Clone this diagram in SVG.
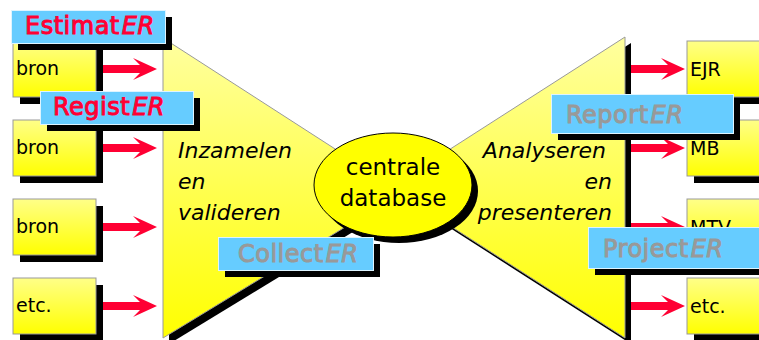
<svg xmlns="http://www.w3.org/2000/svg" width="759" height="340" viewBox="0 0 759 340">
<defs>
<linearGradient id="gBox" x1="0" y1="0" x2="0" y2="1"><stop offset="0" stop-color="#FFFF88"/><stop offset="1" stop-color="#FFFF00"/></linearGradient>
<linearGradient id="gTrap" x1="0" y1="0" x2="0" y2="1"><stop offset="0" stop-color="#FFFFA0"/><stop offset="1" stop-color="#FFFF00"/></linearGradient>
<path id="arr" d="M0,-4 L37,-4 L30,-11 L54,0 L30,11 L37,4 L0,4 Z"/>
</defs>
<style>
.box{fill:url(#gBox);stroke:#999;stroke-width:1}
.sh{fill:#000}
.bt{font-family:"DejaVu Sans",sans-serif;font-size:19px;fill:#000}
.it{font-family:"DejaVu Sans",sans-serif;font-size:22px;font-style:italic;fill:#000}
.lab{fill:#66CCFF;stroke:#DDF4FF;stroke-width:1}
.lt{font-family:"DejaVu Sans",sans-serif;font-size:24px;stroke-width:1;letter-spacing:0.5px}
.red{fill:#FF0033;stroke:#FF0033}
.grey{fill:#999999;stroke:#999999}
.arrow{fill:#FF0033}
</style>

<g id="trap-left">
<polygon class="sh" points="169,44 366,171 366,224 169,344"/>
<polygon points="163,38 360,165 360,218 163,338" fill="url(#gTrap)" stroke="#999" stroke-width="1"/>
<text class="it" x="178" y="158">Inzamelen</text>
<text class="it" x="178" y="189">en</text>
<text class="it" x="178" y="220">valideren</text>
</g>

<g id="trap-right">
<polygon class="sh" points="631,43 436,168 436,219 631,344"/>
<polygon points="625,37 430,162 430,213 625,338" fill="url(#gTrap)" stroke="#999" stroke-width="1"/>
<text class="it" x="606" y="158" text-anchor="end">Analyseren</text>
<text class="it" x="612" y="189" text-anchor="end">en</text>
<text class="it" x="612" y="220" text-anchor="end">presenteren</text>
</g>

<g id="db">
<ellipse class="sh" cx="399" cy="191" rx="79" ry="52"/>
<ellipse cx="393" cy="185" rx="79" ry="52" fill="#FFFF00" stroke="#000" stroke-width="1"/>
<text x="393" y="175" text-anchor="middle" font-family="DejaVu Sans, sans-serif" font-size="23">centrale</text>
<text x="393" y="206" text-anchor="middle" font-family="DejaVu Sans, sans-serif" font-size="23">database</text>
</g>

<g id="src1"><rect class="sh" x="20" y="48" width="83" height="56"/><rect class="box" x="13" y="41" width="83" height="56"/><text class="bt" x="16" y="75">bron</text></g>
<g id="src2"><rect class="sh" x="20" y="127" width="83" height="56"/><rect class="box" x="13" y="120" width="83" height="56"/><text class="bt" x="16" y="154">bron</text></g>
<g id="src3"><rect class="sh" x="20" y="206" width="83" height="56"/><rect class="box" x="13" y="199" width="83" height="56"/><text class="bt" x="16" y="233">bron</text></g>
<g id="src4"><rect class="sh" x="20" y="285" width="83" height="56"/><rect class="box" x="13" y="278" width="83" height="56"/><text class="bt" x="16" y="312">etc.</text></g>

<g id="out1"><rect class="sh" x="694" y="48" width="83" height="56"/><rect class="box" x="687" y="41" width="83" height="56"/><text class="bt" x="690" y="76">EJR</text></g>
<g id="out2"><rect class="sh" x="694" y="127" width="83" height="56"/><rect class="box" x="687" y="120" width="83" height="56"/><text class="bt" x="690" y="155">MB</text></g>
<g id="out3"><rect class="sh" x="694" y="206" width="83" height="56"/><rect class="box" x="687" y="199" width="83" height="56"/><text class="bt" x="690" y="234">MTV</text></g>
<g id="out4"><rect class="sh" x="694" y="285" width="83" height="56"/><rect class="box" x="687" y="278" width="83" height="56"/><text class="bt" x="690" y="313">etc.</text></g>

<g id="connectors">
<use href="#arr" class="arrow" x="103" y="69"/>
<use href="#arr" class="arrow" x="103" y="148"/>
<use href="#arr" class="arrow" x="103" y="227"/>
<use href="#arr" class="arrow" x="103" y="306"/>
<use href="#arr" class="arrow" x="631" y="69"/>
<use href="#arr" class="arrow" x="631" y="148"/>
<use href="#arr" class="arrow" x="631" y="227"/>
<use href="#arr" class="arrow" x="631" y="306"/>
</g>

<g id="estimater"><rect class="sh" x="18" y="17" width="154" height="33"/><rect class="lab" x="11.5" y="10.5" width="154" height="33"/><text class="lt red" x="25" y="34">Estimat<tspan dx="2" font-style="italic">ER</tspan></text></g>
<g id="register"><rect class="sh" x="47" y="98" width="153" height="33"/><rect class="lab" x="40.5" y="91.5" width="153" height="33"/><text class="lt red" x="53" y="115">Regist<tspan dx="2" font-style="italic">ER</tspan></text></g>
<g id="collecter"><rect class="sh" x="225" y="244" width="155" height="33"/><rect class="lab" x="218.5" y="237.5" width="155" height="33"/><text class="lt grey" x="238" y="262">Collect<tspan dx="2" font-style="italic">ER</tspan></text></g>
<g id="reporter"><rect class="sh" x="558" y="101" width="182" height="39"/><rect class="lab" x="551.5" y="94.5" width="182" height="39"/><text class="lt grey" x="566" y="123">Report<tspan dx="2" font-style="italic">ER</tspan></text></g>
<g id="projecter"><rect class="sh" x="595" y="234" width="182" height="41"/><rect class="lab" x="588.5" y="227.5" width="182" height="41"/><text class="lt grey" x="603" y="257">Project<tspan dx="2" font-style="italic">ER</tspan></text></g>
</svg>
